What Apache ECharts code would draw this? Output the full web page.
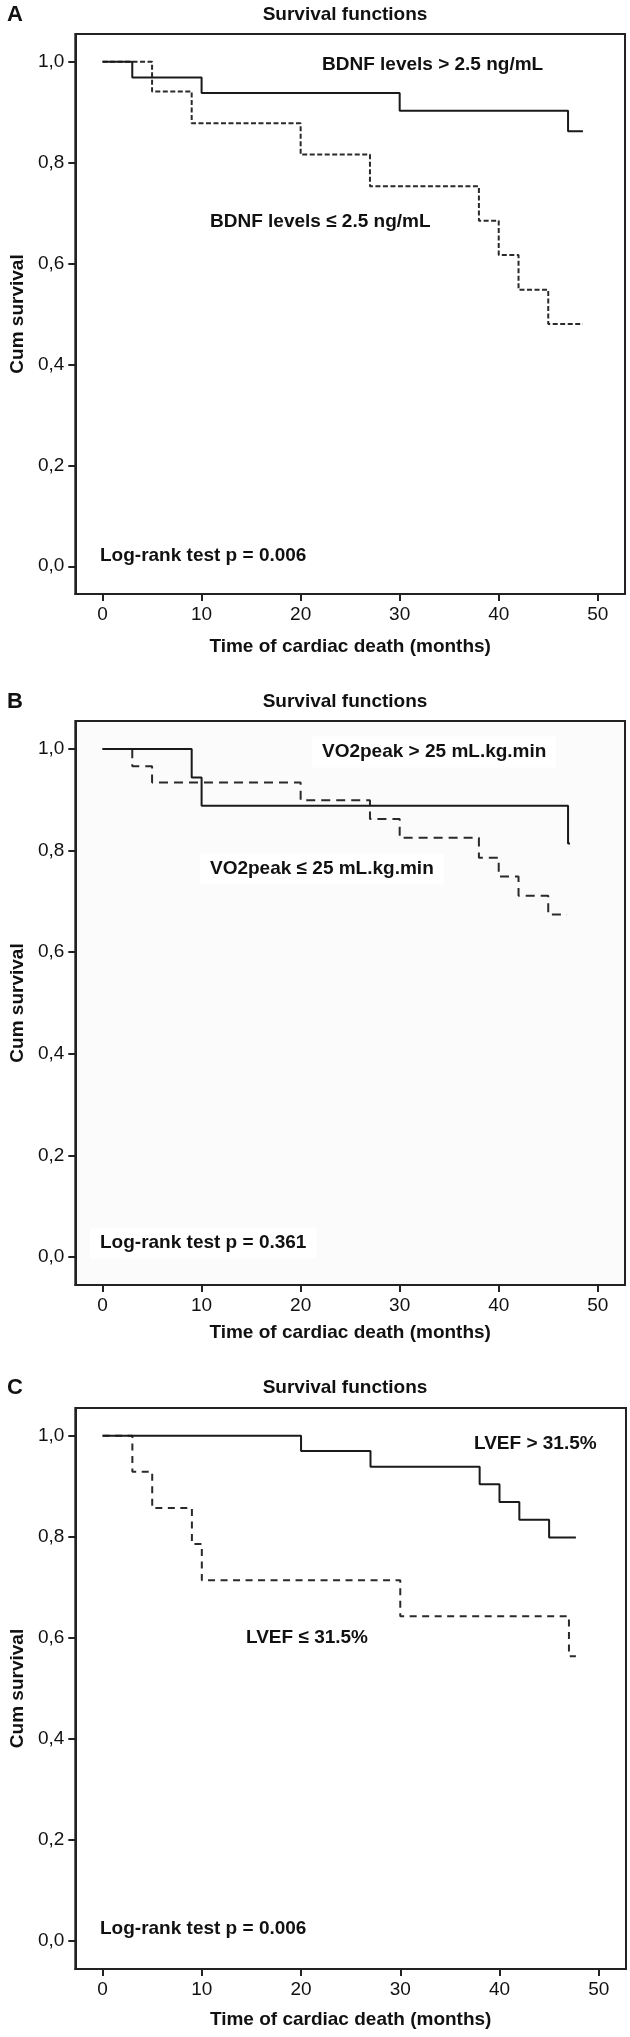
<!DOCTYPE html>
<html><head><meta charset="utf-8">
<script src="https://cdn.jsdelivr.net/npm/echarts@6/dist/echarts.min.js"></script>
<style>html,body{margin:0;padding:0;background:#fff}#c{width:630px;height:2037px}</style>
</head><body><div id="c"></div>
<script>
// Tick values
const xTicks = [0, 10, 20, 30, 40, 50];
const yTicks = [0, 0.2, 0.4, 0.6, 0.8, 1.0];

// Panel A: BDNF
const bdnfHighT = [0, 3, 10, 30, 47, 48.5];
const bdnfHighS = [1, 0.969, 0.938, 0.903, 0.862, 0.862];
const bdnfLowT = [0, 5, 9, 20, 27, 38, 40, 42, 45, 48.5];
const bdnfLowS = [1, 0.941, 0.878, 0.816, 0.753, 0.685, 0.617, 0.548, 0.480, 0.480];

// Panel B: VO2peak
const vo2HighT = [0, 9, 10, 47, 47.2];
const vo2HighS = [1, 0.944, 0.888, 0.814, 0.814];
const vo2LowT = [0, 3, 5, 20, 27, 30, 38, 40, 42, 45, 46.9];
const vo2LowS = [1, 0.966, 0.934, 0.899, 0.862, 0.825, 0.786, 0.749, 0.711, 0.674, 0.674];

// Panel C: LVEF
const lvefHighT = [0, 20, 27, 38, 40, 42, 45, 47.7];
const lvefHighS = [1, 0.970, 0.939, 0.904, 0.869, 0.834, 0.799, 0.799];
const lvefLowT = [0, 3, 5, 9, 10, 30, 47, 47.7];
const lvefLowS = [1, 0.929, 0.857, 0.786, 0.714, 0.643, 0.564, 0.564];

const panelLetters = ['A', 'B', 'C'];
const panelTitle = 'Survival functions';
const xName = 'Time of cardiac death (months)';
const yName = 'Cum survival';

const FONT = '"Liberation Sans", Arial, Helvetica, sans-serif';
const INK = '#1a1a1a';

function pairs(t, s) { return t.map((v, i) => [v, s[i]]); }

const grids = [
  { left: 64, top: 34, width: 561, height: 560, show: true, borderColor: '#222', borderWidth: 2, backgroundColor: '#fff' },
  { left: 64, top: 721, width: 561, height: 564, show: true, borderColor: '#222', borderWidth: 2, backgroundColor: '#fbfbfb' },
  { left: 67, top: 1408, width: 559, height: 561, show: true, borderColor: '#222', borderWidth: 2, backgroundColor: '#fff' }
];
const xNameGaps = [43, 38, 41];

const xAxes = grids.map((g, i) => ({
  gridIndex: i, type: 'value', min: -2.75, max: 52.75,
  axisLine: { show: true, onZero: false, lineStyle: { color: '#222', width: 2 } },
  axisTick: { show: true, length: 7, inside: false, customValues: xTicks, lineStyle: { color: '#222', width: 2 } },
  axisLabel: { customValues: xTicks, margin: 11, fontSize: 19, color: '#111', fontFamily: FONT },
  splitLine: { show: false },
  name: xName, nameLocation: 'middle', nameGap: xNameGaps[i],
  nameTextStyle: { fontSize: 19, fontWeight: 'bold', color: '#111', fontFamily: FONT }
}));
const yAxes = grids.map((g, i) => ({
  gridIndex: i, type: 'value', min: -0.055, max: 1.055,
  axisLine: { show: true, onZero: false, lineStyle: { color: '#222', width: 2 } },
  axisTick: { show: true, length: 7, inside: false, customValues: yTicks, lineStyle: { color: '#222', width: 2 } },
  axisLabel: { customValues: yTicks, margin: 11, fontSize: 19, color: '#111', fontFamily: FONT,
    formatter: v => v.toFixed(1).replace('.', ',') },
  splitLine: { show: false },
  name: yName, nameLocation: 'middle', nameGap: 46, nameRotate: 90,
  nameTextStyle: { fontSize: 19, fontWeight: 'bold', color: '#111', fontFamily: FONT }
}));

function solid(name, i, t, s) {
  return { name, type: 'line', xAxisIndex: i, yAxisIndex: i, step: 'end', symbol: 'none',
    data: pairs(t, s), lineStyle: { color: INK, width: 2, type: 'solid' }, z: 3, animation: false };
}
function dashed(name, i, t, s, dash) {
  return { name, type: 'line', xAxisIndex: i, yAxisIndex: i, step: 'end', symbol: 'none',
    data: pairs(t, s), lineStyle: { color: '#2a2a2a', width: 2, type: dash }, z: 2, animation: false };
}

const titleTops = [5, 692, 1378];
const titles = titleTops.map(t => ({
  text: panelTitle, left: 345, top: t, textAlign: 'center', padding: 0,
  textStyle: { fontSize: 19, fontWeight: 'bold', color: '#111', fontFamily: FONT }
}));

function txt(text, x, y, size, bg) {
  const el = { type: 'text', x, y, z: 10,
    style: { text, font: 'bold ' + size + 'px ' + FONT, fill: '#111',
      textAlign: 'left', textVerticalAlign: 'middle', align: 'left', verticalAlign: 'middle' } };
  if (bg) { el.x = x - 10; el.style.backgroundColor = '#fff'; el.style.padding = [6, 10]; }
  return el;
}

const graphics = [
  txt(panelLetters[0], 7, 15, 22),
  txt('BDNF levels > 2.5 ng/mL', 322, 65, 19),
  txt('BDNF levels \u2264 2.5 ng/mL', 210, 222, 19),
  txt('Log-rank test p = 0.006', 100, 556, 19),
  txt(panelLetters[1], 7, 702, 22),
  txt('VO2peak > 25 mL.kg.min', 322, 752, 19, true),
  txt('VO2peak \u2264 25 mL.kg.min', 210, 869, 19, true),
  txt('Log-rank test p = 0.361', 100, 1243, 19, true),
  txt(panelLetters[2], 7, 1388, 22),
  txt('LVEF > 31.5%', 474, 1444, 19),
  txt('LVEF \u2264 31.5%', 246, 1638, 19),
  txt('Log-rank test p = 0.006', 100, 1929, 19)
];

const chart = echarts.init(document.getElementById('c'), null, { renderer: 'canvas' });
chart.setOption({
  animation: false,
  backgroundColor: '#fff',
  title: titles,
  grid: grids,
  xAxis: xAxes,
  yAxis: yAxes,
  series: [
    dashed('BDNF levels \u2264 2.5 ng/mL', 0, bdnfLowT, bdnfLowS, [5, 2.5]),
    solid('BDNF levels > 2.5 ng/mL', 0, bdnfHighT, bdnfHighS),
    dashed('VO2peak \u2264 25 mL.kg.min', 1, vo2LowT, vo2LowS, [9, 6]),
    solid('VO2peak > 25 mL.kg.min', 1, vo2HighT, vo2HighS),
    dashed('LVEF \u2264 31.5%', 2, lvefLowT, lvefLowS, [7, 5.5]),
    solid('LVEF > 31.5%', 2, lvefHighT, lvefHighS)
  ],
  graphic: graphics
});
</script>
</body></html>
